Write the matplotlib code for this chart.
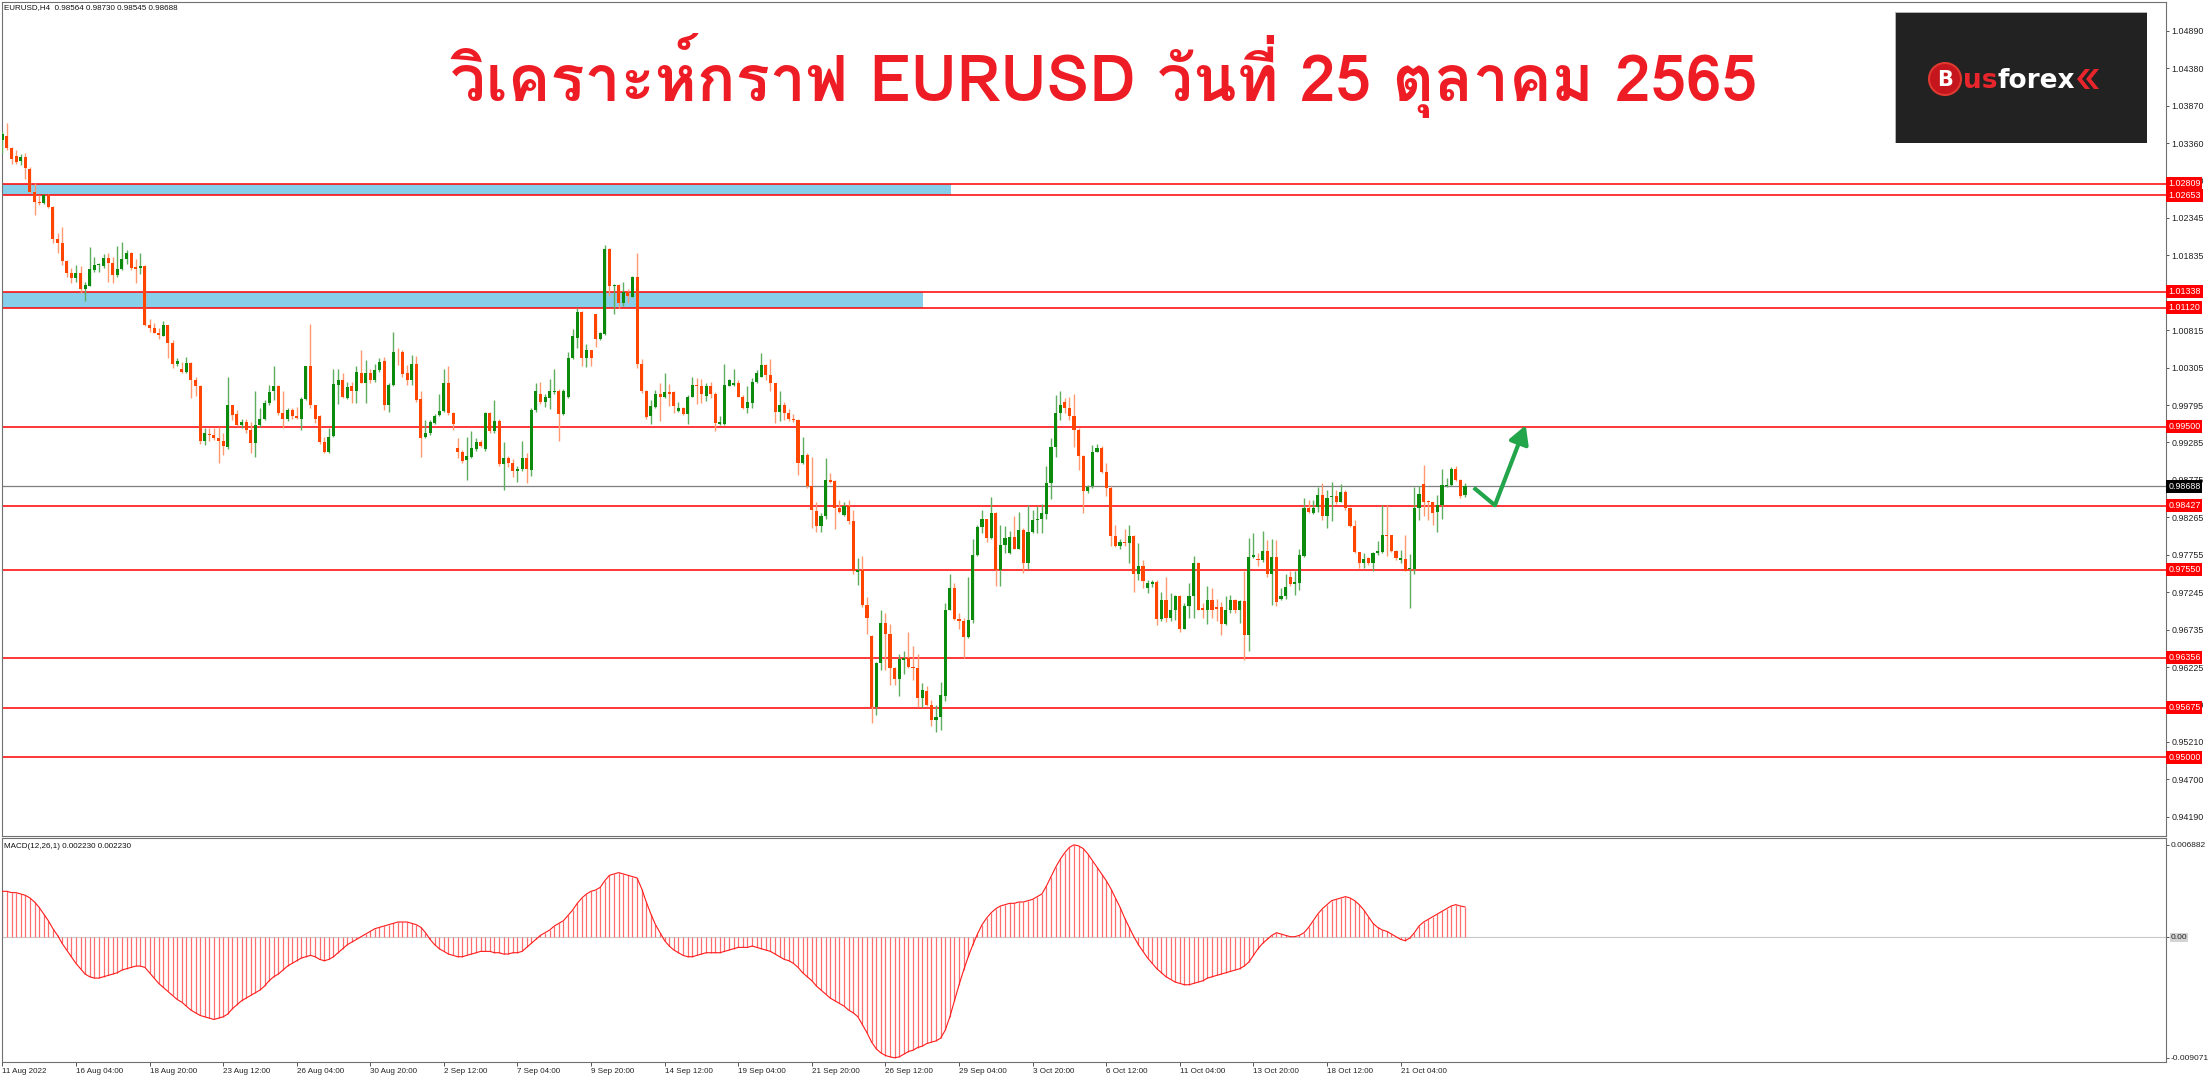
import numpy as np
import matplotlib
matplotlib.use("Agg")
import matplotlib.pyplot as plt
from matplotlib import font_manager as fm
from matplotlib.ft2font import FT2Font
from matplotlib.patches import Rectangle, Ellipse, Polygon

# ---------------- data ----------------
open_ = [
1.0340,1.0346,1.0329,1.0318,1.0312,1.0317,1.0301,1.0270,1.0256,1.0254,
1.0265,1.0249,1.0206,1.0200,1.0175,1.0159,1.0152,1.0159,1.0137,1.0142,
1.0163,1.0170,1.0169,1.0180,1.0173,1.0157,1.0164,1.0178,1.0187,1.0168,
1.0166,1.0169,1.0088,1.0084,1.0078,1.0074,1.0088,1.0064,1.0035,1.0029,
1.0024,1.0037,1.0013,1.0005,0.9931,0.9940,0.9939,0.9934,0.9931,0.9923,
0.9979,0.9967,0.9952,0.9956,0.9945,0.9928,0.9952,0.9960,0.9982,0.9998,
1.0005,0.9968,0.9960,0.9973,0.9964,0.9961,0.9988,1.0032,0.9979,0.9965,
0.9929,0.9915,0.9937,1.0007,1.0014,0.9989,1.0005,0.9998,1.0023,1.0010,
1.0023,1.0014,1.0027,1.0039,0.9979,1.0007,1.0052,1.0051,1.0023,1.0014,
1.0035,0.9987,0.9936,0.9941,0.9955,0.9966,0.9971,1.0009,0.9968,0.9921,
0.9915,0.9904,0.9909,0.9920,0.9929,0.9920,0.9968,0.9944,0.9958,0.9899,
0.9908,0.9901,0.9889,0.9892,0.9907,0.9891,0.9973,0.9994,0.9983,0.9989,
0.9997,0.9999,0.9967,0.9990,1.0043,1.0071,1.0106,1.0044,1.0054,1.0103,
1.0069,1.0076,1.0192,1.0141,1.0143,1.0119,1.0134,1.0127,1.0154,1.0036,
0.9998,0.9965,0.9977,0.9995,0.9990,0.9997,0.9997,0.9972,0.9975,0.9967,
0.9991,1.0007,1.0006,0.9992,1.0005,0.9994,0.9954,0.9954,1.0006,1.0007,
1.0010,0.9991,0.9975,0.9982,1.0011,1.0018,1.0034,1.0021,1.0009,0.9970,
0.9979,0.9968,0.9961,0.9959,0.9901,0.9912,0.9869,0.9835,0.9815,0.9828,
0.9878,0.9876,0.9839,0.9830,0.9842,0.9822,0.9752,0.9755,0.9707,0.9665,
0.9569,0.9628,0.9683,0.9668,0.9621,0.9607,0.9633,0.9635,0.9623,0.9621,
0.9580,0.9590,0.9571,0.9551,0.9555,0.9583,0.9701,0.9730,0.9688,0.9685,
0.9664,0.9687,0.9775,0.9814,0.9824,0.9798,0.9832,0.9755,0.9789,0.9778,
0.9800,0.9784,0.9810,0.9765,0.9806,0.9823,0.9824,0.9831,0.9873,0.9923,
0.9969,0.9983,0.9975,0.9965,0.9946,0.9910,0.9862,0.9869,0.9916,0.9921,
0.9888,0.9867,0.9801,0.9788,0.9793,0.9791,0.9801,0.9749,0.9760,0.9731,
0.9736,0.9739,0.9688,0.9714,0.9690,0.9700,0.9720,0.9675,0.9706,0.9719,
0.9765,0.9703,0.9701,0.9714,0.9704,0.9704,0.9681,0.9700,0.9714,0.9701,
0.9713,0.9667,0.9773,0.9770,0.9769,0.9781,0.9749,0.9773,0.9716,0.9719,
0.9746,0.9736,0.9737,0.9774,0.9839,0.9832,0.9840,0.9857,0.9828,0.9854,
0.9856,0.9848,0.9861,0.9839,0.9815,0.9779,0.9765,0.9771,0.9764,0.9778,
0.9780,0.9803,0.9802,0.9781,0.9769,0.9770,0.9756,0.9756,0.9839,0.9872,
0.9849,0.9847,0.9834,0.9843,0.9869,0.9871,0.9893,0.9877,0.98564]

high = [
1.0352,1.0364,1.0331,1.0327,1.0321,1.0323,1.0304,1.0282,1.0266,1.0267,
1.0267,1.0250,1.0213,1.0222,1.0177,1.0166,1.0170,1.0169,1.0147,1.0194,
1.0181,1.0173,1.0185,1.0186,1.0181,1.0196,1.0202,1.0190,1.0188,1.0178,
1.0187,1.0170,1.0097,1.0091,1.0084,1.0094,1.0089,1.0068,1.0044,1.0038,
1.0045,1.0038,1.0017,1.0007,0.9948,0.9948,0.9948,0.9950,0.9941,1.0017,
0.9980,0.9973,0.9961,0.9961,0.9957,0.9999,0.9975,0.9986,1.0007,1.0032,
1.0007,0.9999,0.9975,0.9975,0.9977,0.9991,1.0033,1.0090,0.9980,0.9966,
0.9936,0.9948,1.0028,1.0028,1.0023,1.0011,1.0011,1.0032,1.0054,1.0041,
1.0029,1.0036,1.0043,1.0045,1.0009,1.0079,1.0057,1.0054,1.0034,1.0048,
1.0046,0.9999,0.9959,0.9959,0.9967,0.9995,1.0028,1.0033,0.9970,0.9934,
0.9918,0.9936,0.9944,0.9934,0.9932,0.9970,0.9970,0.9986,0.9960,0.9929,
0.9910,0.9906,0.9896,0.9930,0.9914,0.9975,1.0010,1.0011,0.9995,1.0015,
1.0028,1.0001,1.0001,1.0052,1.0083,1.0111,1.0108,1.0062,1.0055,1.0104,
1.0079,1.0197,1.0193,1.0144,1.0144,1.0147,1.0137,1.0155,1.0187,1.0042,
1.0000,0.9986,1.0000,1.0009,1.0023,1.0008,0.9998,0.9983,0.9977,0.9993,
1.0018,1.0016,1.0015,1.0010,1.0011,0.9997,0.9964,1.0036,1.0015,1.0028,
1.0014,0.9993,1.0005,1.0016,1.0027,1.0050,1.0036,1.0042,1.0010,0.9998,
0.9983,0.9974,0.9967,0.9960,0.9936,0.9914,0.9909,0.9848,0.9832,0.9907,
0.9887,0.9877,0.9850,0.9848,0.9850,0.9837,0.9771,0.9774,0.9718,0.9666,
0.9630,0.9700,0.9696,0.9682,0.9623,0.9641,0.9644,0.9670,0.9651,0.9641,
0.9601,0.9597,0.9578,0.9571,0.9602,0.9710,0.9750,0.9737,0.9697,0.9689,
0.9746,0.9797,0.9816,0.9837,0.9825,0.9854,0.9834,0.9816,0.9815,0.9808,
0.9828,0.9834,0.9812,0.9843,0.9837,0.9842,0.9845,0.9896,0.9934,0.9993,
0.9999,0.9989,0.9991,0.9994,0.9948,0.9911,0.9871,0.9925,0.9926,0.9924,
0.9901,0.9869,0.9816,0.9797,0.9811,0.9816,0.9802,0.9791,0.9768,0.9741,
0.9741,0.9741,0.9725,0.9746,0.9723,0.9721,0.9721,0.9710,0.9737,0.9774,
0.9766,0.9710,0.9733,0.9731,0.9716,0.9712,0.9719,0.9721,0.9716,0.9714,
0.9753,0.9798,0.9805,0.9778,0.9808,0.9796,0.9797,0.9796,0.9731,0.9750,
0.9753,0.9753,0.9784,0.9853,0.9850,0.9850,0.9868,0.9874,0.9864,0.9875,
0.9864,0.9872,0.9864,0.9840,0.9823,0.9780,0.9778,0.9773,0.9780,0.9795,
0.9843,0.9844,0.9803,0.9782,0.9782,0.9803,0.9777,0.9868,0.9869,0.9898,
0.9850,0.9848,0.9857,0.9892,0.9880,0.9895,0.9897,0.9879,0.98730]

low = [
1.0322,1.0327,1.0308,1.0308,1.0306,1.0287,1.0268,1.0238,1.0252,1.0253,
1.0247,1.0200,1.0186,1.0170,1.0154,1.0146,1.0147,1.0132,1.0121,1.0141,
1.0161,1.0161,1.0166,1.0147,1.0145,1.0154,1.0163,1.0172,1.0163,1.0145,
1.0158,1.0087,1.0079,1.0077,1.0069,1.0073,1.0044,1.0030,1.0032,1.0023,
1.0023,0.9989,0.9992,0.9927,0.9925,0.9930,0.9932,0.9900,0.9911,0.9920,
0.9959,0.9951,0.9948,0.9941,0.9914,0.9909,0.9950,0.9959,0.9979,0.9986,
0.9966,0.9948,0.9958,0.9961,0.9961,0.9945,0.9986,0.9975,0.9955,0.9927,
0.9914,0.9914,0.9936,0.9981,0.9989,0.9988,0.9982,0.9982,1.0009,0.9982,
1.0010,1.0011,1.0025,0.9973,0.9970,1.0006,1.0034,1.0018,1.0007,1.0007,
0.9984,0.9909,0.9934,0.9939,0.9954,0.9964,0.9970,0.9966,0.9945,0.9907,
0.9900,0.9877,0.9908,0.9917,0.9923,0.9917,0.9941,0.9942,0.9897,0.9864,
0.9895,0.9882,0.9875,0.9890,0.9874,0.9883,0.9970,0.9981,0.9977,0.9974,
0.9995,0.9930,0.9966,0.9989,1.0042,1.0057,1.0032,1.0031,1.0032,1.0058,
1.0068,1.0075,1.0128,1.0103,1.0111,1.0114,1.0119,1.0126,1.0030,0.9996,
0.9961,0.9954,0.9976,0.9958,0.9989,0.9978,0.9968,0.9970,0.9966,0.9954,
0.9990,0.9981,0.9982,0.9985,0.9989,0.9944,0.9952,0.9952,1.0005,1.0005,
0.9990,0.9974,0.9968,0.9975,1.0009,1.0017,1.0014,0.9999,0.9955,0.9958,
0.9959,0.9958,0.9957,0.9884,0.9899,0.9866,0.9812,0.9806,0.9807,0.9825,
0.9873,0.9811,0.9832,0.9828,0.9818,0.9750,0.9735,0.9705,0.9668,0.9546,
0.9558,0.9619,0.9619,0.9598,0.9598,0.9583,0.9614,0.9621,0.9605,0.9569,
0.9569,0.9570,0.9542,0.9535,0.9537,0.9576,0.9700,0.9687,0.9675,0.9635,
0.9662,0.9683,0.9774,0.9805,0.9793,0.9797,0.9733,0.9733,0.9778,0.9777,
0.9783,0.9783,0.9751,0.9756,0.9805,0.9805,0.9805,0.9825,0.9851,0.9909,
0.9959,0.9968,0.9959,0.9922,0.9891,0.9833,0.9860,0.9866,0.9915,0.9887,
0.9855,0.9787,0.9786,0.9784,0.9787,0.9765,0.9725,0.9741,0.9730,0.9723,
0.9732,0.9680,0.9685,0.9684,0.9685,0.9687,0.9670,0.9674,0.9690,0.9690,
0.9700,0.9689,0.9682,0.9689,0.9686,0.9666,0.9680,0.9696,0.9696,0.9683,
0.9632,0.9645,0.9771,0.9760,0.9766,0.9746,0.9707,0.9706,0.9714,0.9716,
0.9733,0.9721,0.9728,0.9772,0.9832,0.9831,0.9834,0.9823,0.9812,0.9821,
0.9845,0.9847,0.9837,0.9814,0.9778,0.9757,0.9757,0.9762,0.9754,0.9775,
0.9778,0.9774,0.9780,0.9769,0.9764,0.9753,0.9703,0.9750,0.9823,0.9828,
0.9823,0.9816,0.9806,0.9825,0.9868,0.9869,0.9876,0.9853,0.98545]

close = [
1.0349,1.0329,1.0315,1.0310,1.0317,1.0302,1.0270,1.0256,1.0254,1.0265,
1.0249,1.0206,1.0200,1.0175,1.0159,1.0152,1.0159,1.0138,1.0143,1.0164,
1.0170,1.0171,1.0180,1.0173,1.0157,1.0164,1.0178,1.0187,1.0166,1.0165,
1.0169,1.0088,1.0084,1.0078,1.0075,1.0088,1.0064,1.0035,1.0039,1.0025,
1.0037,1.0013,1.0005,0.9930,0.9941,0.9939,0.9934,0.9931,0.9924,0.9979,
0.9966,0.9952,0.9956,0.9945,0.9928,0.9952,0.9961,0.9982,0.9997,1.0005,
0.9968,0.9960,0.9973,0.9964,0.9962,0.9988,1.0032,0.9979,0.9960,0.9929,
0.9915,0.9936,1.0008,1.0014,0.9991,1.0004,0.9998,1.0024,1.0010,1.0023,
1.0014,1.0027,1.0038,0.9979,1.0007,1.0052,1.0051,1.0022,1.0014,1.0035,
0.9986,0.9935,0.9942,0.9956,0.9965,0.9971,1.0009,0.9968,0.9954,0.9915,
0.9903,0.9910,0.9921,0.9929,0.9924,0.9968,0.9944,0.9958,0.9899,0.9908,
0.9901,0.9889,0.9893,0.9907,0.9892,0.9973,0.9999,0.9983,0.9990,0.9998,
0.9999,0.9967,0.9999,1.0043,1.0073,1.0106,1.0044,1.0054,1.0044,1.0069,
1.0077,1.0192,1.0141,1.0143,1.0119,1.0134,1.0128,1.0154,1.0036,0.9998,
0.9963,0.9978,0.9995,0.9991,0.9997,0.9995,0.9978,0.9975,0.9967,0.9991,
1.0007,1.0005,0.9995,1.0005,0.9995,0.9955,0.9956,1.0007,1.0013,1.0010,
0.9991,0.9976,0.9983,1.0011,1.0023,1.0034,1.0021,1.0009,0.9970,0.9979,
0.9968,0.9961,0.9959,0.9901,0.9912,0.9869,0.9836,0.9815,0.9828,0.9878,
0.9875,0.9839,0.9834,0.9842,0.9822,0.9753,0.9755,0.9707,0.9689,0.9569,
0.9628,0.9683,0.9668,0.9621,0.9607,0.9634,0.9635,0.9623,0.9621,0.9580,
0.9592,0.9571,0.9551,0.9555,0.9585,0.9701,0.9730,0.9688,0.9685,0.9664,
0.9687,0.9775,0.9813,0.9824,0.9798,0.9832,0.9755,0.9789,0.9799,0.9800,
0.9784,0.9810,0.9765,0.9807,0.9823,0.9825,0.9832,0.9873,0.9923,0.9969,
0.9980,0.9976,0.9965,0.9946,0.9910,0.9862,0.9868,0.9916,0.9921,0.9888,
0.9867,0.9801,0.9787,0.9793,0.9791,0.9801,0.9749,0.9760,0.9740,0.9737,
0.9739,0.9688,0.9714,0.9690,0.9701,0.9720,0.9675,0.9706,0.9720,0.9765,
0.9701,0.9701,0.9714,0.9701,0.9702,0.9681,0.9700,0.9714,0.9700,0.9713,
0.9667,0.9773,0.9775,0.9768,0.9781,0.9750,0.9773,0.9711,0.9719,0.9732,
0.9736,0.9738,0.9775,0.9839,0.9834,0.9839,0.9857,0.9828,0.9853,0.9856,
0.9848,0.9861,0.9839,0.9815,0.9779,0.9765,0.9770,0.9764,0.9778,0.9781,
0.9802,0.9801,0.9781,0.9771,0.9771,0.9754,0.9757,0.9839,0.9858,0.9848,
0.9847,0.9833,0.9843,0.9870,0.9871,0.9893,0.9877,0.9856,0.98688]

# MACD(12,26,1) main values, in units of 1e-4
macd_x1e4 = [
34,34,33,33,32,31,29,26,22,17,
12,6,1,-5,-10,-15,-20,-24,-28,-30,
-31,-31,-30,-29,-28,-27,-25,-24,-23,-22,
-22,-23,-27,-31,-35,-38,-41,-44,-47,-49,
-52,-55,-57,-59,-60,-61,-62,-61,-60,-58,
-54,-51,-48,-46,-44,-42,-40,-37,-33,-30,
-28,-25,-22,-20,-18,-16,-15,-14,-15,-17,
-18,-17,-15,-12,-9,-6,-4,-2,0,2,
4,6,7,8,9,10,11,11,11,10,
9,7,3,-2,-6,-9,-11,-13,-14,-15,
-15,-14,-13,-12,-11,-11,-11,-12,-12,-13,
-13,-12,-12,-11,-8,-5,-2,1,3,5,
8,10,12,16,20,25,29,32,34,35,
37,42,46,47,48,47,46,45,44,36,
26,17,9,3,-3,-7,-10,-12,-14,-15,
-15,-14,-13,-12,-12,-12,-12,-11,-10,-9,
-8,-8,-8,-7,-8,-9,-10,-11,-13,-15,
-17,-18,-20,-23,-27,-30,-33,-37,-40,-43,
-46,-48,-50,-52,-55,-57,-60,-66,-72,-79,
-84,-87,-89,-90,-90.71,-90,-88,-86,-85,-83,
-82,-80,-79,-78,-76,-70,-60,-48,-36,-25,
-15,-6,2,9,14,18,21,23,24,25,
25,26,26,27,28,30,32,38,45,52,
58,63,67,68.82,68,66,62,57,52,47,
42,36,29,22,14,7,0,-6,-11,-16,
-20,-24,-27,-30,-32,-34,-35,-36,-36,-35,
-34,-33,-31,-30,-29,-28,-27,-26,-25,-24,
-22,-19,-14,-9,-5,-2,1,3,2,1,
0,0,1,3,7,12,17,21,24,27,
28,29,30,29,27,24,20,15,10,7,
5,4,2,0,-2,-3,-1,3,8,11,
13,15,17,19,21,23,24,23,22.30]

date_labels = ["11 Aug 2022", "16 Aug 04:00", "18 Aug 20:00", "23 Aug 12:00", "26 Aug 04:00",
               "30 Aug 20:00", "2 Sep 12:00", "7 Sep 04:00", "9 Sep 20:00", "14 Sep 12:00",
               "19 Sep 04:00", "21 Sep 20:00", "26 Sep 12:00", "29 Sep 04:00", "3 Oct 20:00",
               "6 Oct 12:00", "11 Oct 04:00", "13 Oct 20:00", "18 Oct 12:00", "21 Oct 04:00"]
date_bar_index = [0, 16, 32, 48, 64, 80, 96, 112, 128, 144, 160, 176, 192, 208, 224, 240, 256, 272, 288, 304]

price_ticks = [1.04890, 1.04380, 1.03870, 1.03360, 1.02850, 1.02345, 1.01835, 1.01325, 1.00815,
               1.00305, 0.99795, 0.99285, 0.98775, 0.98265, 0.97755, 0.97245, 0.96735, 0.96225,
               0.95720, 0.95210, 0.94700, 0.94190]
red_levels = [1.02809, 1.02653, 1.01338, 1.01120, 0.99500, 0.98427, 0.97550, 0.96356, 0.95675, 0.95000]
current_price = 0.98688
zones = [(1.02653, 1.02809, 206.2), (1.01120, 1.01338, 200.2)]   # (low, high, end bar)
macd_ticks = [0.006882, 0.0, -0.009071]
macd_tick_labels = ["0.006882", "0.00", "-0.009071"]
arrow_x = [319.9, 324.5, 331.2]
arrow_y = [0.9867, 0.9843, 0.9952]

title = "วิเคราะห์กราฟ EURUSD วันที่ 25 ตุลาคม 2565"
header = "EURUSD,H4  0.98564 0.98730 0.98545 0.98688"
macd_header = "MACD(12,26,1) 0.002230 0.002230"

# ---------------- fonts ----------------
def find_family(cp):
    best = None
    for f in fm.fontManager.ttflist:
        try:
            if cp in FT2Font(f.fname).get_charmap():
                w = f.weight
                if w == 'bold' or (isinstance(w, int) and w >= 600):
                    return f.name
                if best is None:
                    best = f.name
        except Exception:
            pass
    return best

thai_family = find_family(0x0E27)
title_fams = ([thai_family] if thai_family else []) + ['DejaVu Sans']
plt.rcParams['font.family'] = ['Liberation Sans', 'DejaVu Sans']
SMALL = 5.8
AXFS = 6.4

# ---------------- figure ----------------
W, H = 2209, 1080
fig = plt.figure(figsize=(W / 100, H / 100), dpi=100)
fig.patch.set_facecolor('white')
fx = lambda px: px / W
fy = lambda py: 1 - py / H

ax = fig.add_axes([fx(2), fy(836), fx(2166) - fx(2), fy(2) - fy(836)])
ax2 = fig.add_axes([fx(2), fy(1062), fx(2166) - fx(2), fy(838) - fy(1062)])

o = np.array(open_); h = np.array(high); l = np.array(low); c = np.array(close)
n = len(o)
x = np.arange(n)
bull = c >= o
XMIN, XMAX = -0.07, 470.4

# zones (background)
for lo_, hi_, end in zones:
    ax.add_patch(Rectangle((XMIN, lo_), end - XMIN, hi_ - lo_, fc='#87ceeb', ec='none', zorder=1))
# levels
for lv in red_levels:
    ax.axhline(lv, color='#ff0000', lw=1.1, zorder=2)
ax.axhline(current_price, color='#7f7f7f', lw=0.9, zorder=2)

# candles
bull_col, bear_col = '#0b8a0b', '#ff4500'
wick_cols = np.where(bull, '#5fae5f', '#ff9a70')
ax.vlines(x, l, h, colors=wick_cols, lw=1.0, zorder=3)
body_b = np.minimum(o, c)
body_h = np.maximum(np.abs(c - o), 0.00004)
ax.bar(x, body_h, bottom=body_b, width=0.68, color=np.where(bull, bull_col, bear_col),
       linewidth=0, zorder=4)

# green arrow
ax.plot(arrow_x[:2], arrow_y[:2], color='#22a54b', lw=3.0, solid_capstyle='butt', zorder=6)
ax.annotate('', xy=(arrow_x[2], arrow_y[2]), xytext=(arrow_x[1], arrow_y[1]),
            arrowprops=dict(arrowstyle='-|>,head_length=0.9,head_width=0.5', color='#22a54b',
                            lw=3.0, shrinkA=0, shrinkB=0, mutation_scale=12), zorder=6)

ax.set_xlim(XMIN, XMAX)
ax.set_ylim(0.93928, 1.05281)
ax.set_xticks([])
ax.yaxis.tick_right()
ax.set_yticks(price_ticks)
ax.set_yticklabels([f"{t:.5f}" for t in price_ticks], fontsize=AXFS, color='#222222')
ax.tick_params(axis='y', length=2, width=0.7, color='#555555', pad=2)
for sp in ax.spines.values():
    sp.set_color('#707070'); sp.set_linewidth(0.8)

ytrans = ax.get_yaxis_transform()
for lv in red_levels:
    ax.text(1.0010, lv, f"{lv:.5f}", transform=ytrans, ha='left', va='center', fontsize=AXFS,
            color='white', clip_on=False, zorder=20,
            bbox=dict(boxstyle='square,pad=0.22', fc='#ff0000', ec='none'))
ax.text(1.0010, current_price, f"{current_price:.5f}", transform=ytrans, ha='left', va='center',
        fontsize=AXFS, color='white', clip_on=False, zorder=20,
        bbox=dict(boxstyle='square,pad=0.22', fc='#000000', ec='none'))

# ---------------- MACD panel ----------------
m = np.array(macd_x1e4) * 1e-4
ax2.axhline(0, color='#c8c8c8', lw=0.8, zorder=1)
ax2.vlines(x, 0, m, colors='#ff6e6e', lw=0.9, zorder=2)
ax2.plot(x, m, color='#ff1a1a', lw=0.8, zorder=3)
ax2.set_xlim(XMIN, XMAX)
ax2.set_ylim(-0.009386, 0.007393)
ax2.yaxis.tick_right()
ax2.set_yticks(macd_ticks)
ax2.set_yticklabels(macd_tick_labels, fontsize=6.0, color='#222222')
ax2.tick_params(axis='y', length=2, width=0.7, color='#555555', pad=1.5)
ax2.get_yticklabels()[1].set_bbox(dict(fc='#d4d4d4', ec='none', pad=0.6))
ax2.set_xticks(date_bar_index)
ax2.set_xticklabels(date_labels, fontsize=SMALL, color='#222222')
ax2.tick_params(axis='x', length=3, width=0.7, color='#555555', pad=1.5)
for lab in ax2.get_xticklabels():
    lab.set_horizontalalignment('left')
for sp in ax2.spines.values():
    sp.set_color('#707070'); sp.set_linewidth(0.8)

# ---------------- texts ----------------
fig.text(fx(4), fy(8), header, fontsize=SMALL, color='#111111', ha='left', va='center')
fig.text(fx(4), fy(846), macd_header, fontsize=SMALL, color='#111111', ha='left', va='center')
fig.text(fx(1104), fy(76), title, fontsize=46, fontweight='bold', color='#ee1c25',
         ha='center', va='center', family=title_fams)

# ---------------- logo ----------------
lax = fig.add_axes([fx(1895), fy(143), fx(2147) - fx(1895), fy(12) - fy(143)])
lax.set_xlim(0, 252); lax.set_ylim(131, 0); lax.axis('off')
lax.add_patch(Rectangle((0, 0), 252, 131, fc='#222222', ec='#bbbbbb', lw=0.6))
lax.add_patch(Ellipse((50, 67), 32, 32, fc='#c4161c', ec='#e0392f', lw=1.5))
lax.text(50, 68, 'B', color='white', fontsize=15, fontweight='bold', ha='center', va='center',
         family='DejaVu Sans')
t_us = lax.text(68, 76, 'us', color='#e8252b', fontsize=19, fontweight='bold', ha='left',
                va='baseline', family='DejaVu Sans')
fig.canvas.draw()
bb = t_us.get_window_extent()
x_end = lax.transData.inverted().transform((bb.x1, bb.y0))[0]
t_fx = lax.text(x_end, 76, 'forex', color='white', fontsize=19, fontweight='bold', ha='left',
                va='baseline', family='DejaVu Sans')
fig.canvas.draw()
bb2 = t_fx.get_window_extent()
x_end2 = lax.transData.inverted().transform((bb2.x1, bb2.y0))[0]
for k in range(2):
    x0 = x_end2 + 2 + 9 * k
    lax.add_patch(Polygon([(x0 + 8, 57), (x0, 67), (x0 + 8, 77), (x0 + 13, 77), (x0 + 5, 67), (x0 + 13, 57)],
                          closed=True, fc='#e8252b', ec='none'))

fig.savefig('out.png', dpi=100)
